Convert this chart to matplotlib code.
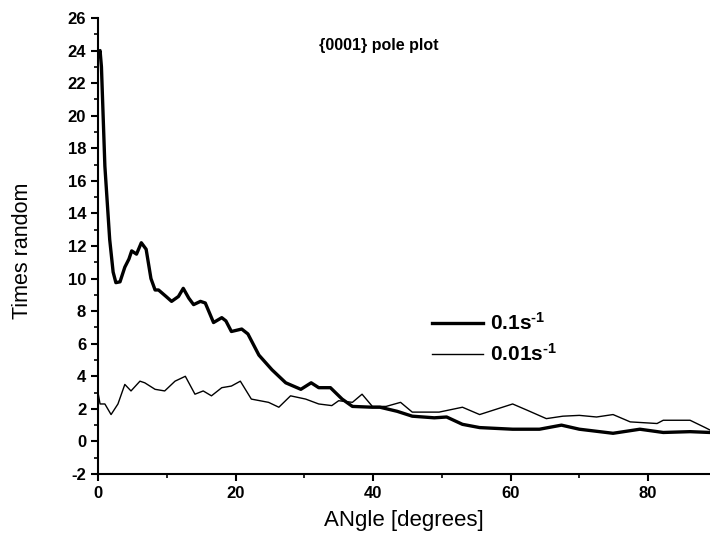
import numpy as np
import matplotlib
matplotlib.use('Agg')
import matplotlib.pyplot as plt
from matplotlib.ticker import MultipleLocator

plt.rcParams['font.family'] = ['Liberation Sans', 'DejaVu Sans']
plt.rcParams['axes.unicode_minus'] = False
plt.rcParams['mathtext.fontset'] = 'custom'
plt.rcParams['mathtext.rm'] = 'Liberation Sans:bold'
plt.rcParams['mathtext.default'] = 'rm'

# 0.1 s^-1 (thick line)
thick_x = [0, 0.3, 0.5, 1.0, 1.7, 2.2, 2.6, 3.2, 3.9, 4.5, 4.9, 5.6, 6.3, 7.0, 7.7,
           8.3, 8.8, 9.9, 10.7, 11.7, 12.4, 13.2, 13.9, 14.9, 15.6, 16.8, 18.0, 18.6,
           19.4, 20.9, 21.8, 23.4, 25.3, 27.3, 29.5, 31.0, 32.1, 33.8, 35.5, 37.0,
           39.9, 41.0, 43.5, 45.7, 48.9, 50.7, 53.0, 55.5, 60.3, 64.2, 67.4, 70.0,
           74.9, 78.8, 82.2, 86.1, 89]
thick_y = [23.7, 24.0, 23.0, 16.9, 12.4, 10.4, 9.75, 9.8, 10.7, 11.2, 11.7, 11.5, 12.2,
           11.8, 10.0, 9.3, 9.3, 8.9, 8.6, 8.9, 9.4, 8.8, 8.4, 8.6, 8.5, 7.3, 7.6, 7.4,
           6.75, 6.9, 6.6, 5.3, 4.4, 3.6, 3.2, 3.6, 3.3, 3.3, 2.6, 2.15, 2.1, 2.1, 1.85,
           1.55, 1.45, 1.5, 1.05, 0.85, 0.75, 0.75, 1.0, 0.75, 0.5, 0.75, 0.55, 0.6, 0.55]

# 0.01 s^-1 (thin line)
thin_x = [0, 0.3, 1.0, 1.9, 2.9, 3.9, 4.8, 6.1, 6.8, 8.3, 9.7, 11.2, 12.7, 14.1, 15.3,
          16.5, 18.0, 19.4, 20.7, 22.3, 24.8, 26.3, 28.0, 30.2, 32.1, 34.0, 35.0, 37.0,
          38.4, 39.9, 41.9, 44.0, 45.7, 49.6, 53.0, 55.5, 60.3, 62.5, 65.2, 67.6, 70,
          72.5, 74.9, 77.4, 81.3, 82.2, 86.1, 88.3, 89]
thin_y = [3.0, 2.3, 2.3, 1.65, 2.3, 3.5, 3.1, 3.7, 3.6, 3.2, 3.1, 3.7, 4.0, 2.9, 3.1,
          2.8, 3.3, 3.4, 3.7, 2.6, 2.4, 2.1, 2.8, 2.6, 2.3, 2.2, 2.5, 2.4, 2.9, 2.15,
          2.15, 2.4, 1.8, 1.8, 2.1, 1.65, 2.3, 1.9, 1.4, 1.55, 1.6, 1.5, 1.65, 1.2, 1.1,
          1.3, 1.3, 0.85, 0.7]

fig = plt.figure(figsize=(7.1, 5.45), dpi=100)
ax = fig.add_axes([98/710, 71/545, 612/710, 456/545])

ax.plot(thick_x, thick_y, color='black', lw=2.4, label=r'0.1s$^{\text{-}1}$')
ax.plot(thin_x, thin_y, color='black', lw=1.0, label=r'0.01s$^{\text{-}1}$')

ax.set_xlim(0, 89)
ax.set_ylim(-2, 26)
ax.xaxis.set_major_locator(MultipleLocator(20))
ax.xaxis.set_minor_locator(MultipleLocator(10))
ax.yaxis.set_major_locator(MultipleLocator(2))
ax.yaxis.set_minor_locator(MultipleLocator(1))

for s in ['top', 'right']:
    ax.spines[s].set_visible(False)
for s in ['left', 'bottom']:
    ax.spines[s].set_linewidth(1.5)

ax.tick_params(which='major', direction='out', length=5, width=1.5, labelsize=12)
ax.tick_params(which='minor', direction='out', length=3, width=1.2)
for lab in ax.get_xticklabels() + ax.get_yticklabels():
    lab.set_fontweight('bold')

ax.set_xlabel('ANgle [degrees]', fontsize=16)
ax.set_ylabel('Times random', fontsize=15.5)
ax.xaxis.set_label_coords(0.5, -0.08)
ax.yaxis.set_label_coords(-0.106, 0.49)

ax.text(0.458, 0.94, '{0001} pole plot', transform=ax.transAxes, ha='center', va='center',
        fontsize=11.5, fontweight='bold')

ax.legend(loc='upper left', bbox_to_anchor=(0.545, 0.355), frameon=False,
          prop={'size': 15, 'weight': 'bold'}, handlelength=2.45, handletextpad=0.35,
          labelspacing=0.45, borderpad=0, borderaxespad=0)

fig.savefig('out.png', dpi=100)
